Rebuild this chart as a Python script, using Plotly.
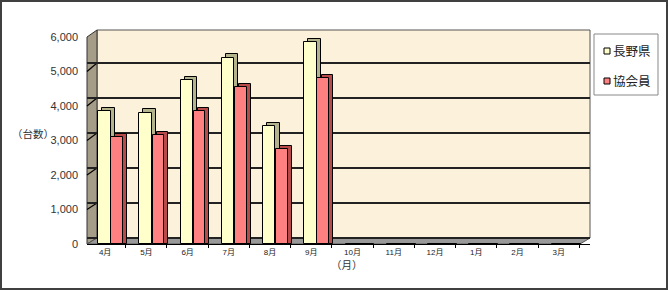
import plotly.graph_objects as go

months = ["4月", "5月", "6月", "7月", "8月", "9月", "10月", "11月", "12月", "1月", "2月", "3月"]
nagano = [3850, 3800, 4750, 5400, 3420, 5850, 0, 0, 0, 0, 0, 0]
kyokai = [3100, 3150, 3850, 4550, 2750, 4800, 0, 0, 0, 0, 0, 0]
y_ticks = [0, 1000, 2000, 3000, 4000, 5000, 6000]
series_names = ["長野県", "協会員"]

W, H = 668, 290
L, R, T, B = 87, 590, 37, 244
PW, PH = R - L, B - T


def px(x):
    return (x - L) / PW


def py(y):
    return (B - y) / PH


DEPTH_UNITS = 0.1   # side face width in category units
TOP_VAL = 100       # top face height in value units

fig = go.Figure()

series = [
    (series_names[0], nagano, "#ffffcc", "#b4b48c", -0.17, 0.30),
    (series_names[1], kyokai, "#ff8080", "#b84a4a", 0.15, 0.28),
]
for name, vals, col, side, off, wid in series:
    fig.add_trace(go.Bar(
        x=months, y=[v + TOP_VAL if v > 0 else 0 for v in vals],
        offset=off + DEPTH_UNITS, width=wid,
        marker=dict(color=side, line=dict(color="#000000", width=1)),
        showlegend=False, hoverinfo="skip"))
    fig.add_trace(go.Bar(
        x=months, y=vals, name=name, offset=off, width=wid, showlegend=False,
        marker=dict(color=col, line=dict(color="#000000", width=1))))

# invisible trace for back-wall gridlines axis
fig.add_trace(go.Scatter(x=[months[0]], y=[0], yaxis="y2", mode="markers",
                         marker=dict(opacity=0), showlegend=False, hoverinfo="skip"))

shapes = []
# outer border
shapes.append(dict(type="rect", xref="paper", yref="paper",
                   x0=px(1), x1=px(667), y0=py(289), y1=py(1),
                   line=dict(color="#404040", width=2), fillcolor="rgba(0,0,0,0)", layer="above"))
# back wall
shapes.append(dict(type="rect", xref="paper", yref="paper",
                   x0=px(97), x1=px(590), y0=py(238), y1=py(30),
                   line=dict(color="#555555", width=1), fillcolor="#fcf1da", layer="below"))
# left wall
shapes.append(dict(type="path", xref="paper", yref="paper",
                   path=f"M {px(87)},{py(37)} L {px(97)},{py(30)} L {px(97)},{py(238)} L {px(87)},{py(244)} Z",
                   line=dict(color="#333333", width=1), fillcolor="#a69d89", layer="between"))
# floor
shapes.append(dict(type="path", xref="paper", yref="paper",
                   path=f"M {px(87)},{py(244)} L {px(97)},{py(238)} L {px(590)},{py(238)} L {px(580)},{py(244)} Z",
                   line=dict(color="#555555", width=1), fillcolor="#999999", layer="between"))
# diagonal ticks on left wall
for v in y_ticks[1:-1]:
    yf = B - v / 6000 * PH
    yb = 238 - v / 1000 * 35
    shapes.append(dict(type="line", xref="paper", yref="paper",
                       x0=px(87), y0=py(yf), x1=px(97), y1=py(yb),
                       line=dict(color="#000000", width=1.2), layer="between"))

# legend (drawn manually to match the compact box)
shapes.append(dict(type="rect", xref="paper", yref="paper",
                   x0=px(594), x1=px(658), y0=py(95), y1=py(34),
                   line=dict(color="#888888", width=1), fillcolor="#ffffff", layer="above"))
legend_rows = [(51, series[0][2]), (81, series[1][2])]
annotations = []
for (yc, col), name in zip(legend_rows, series_names):
    shapes.append(dict(type="rect", xref="paper", yref="paper",
                       x0=px(604), x1=px(610), y0=py(yc + 3), y1=py(yc - 3),
                       line=dict(color="#000000", width=1), fillcolor=col, layer="above"))
    annotations.append(dict(text=name, xref="paper", yref="paper", x=px(611), y=py(yc),
                            xanchor="left", yanchor="middle", showarrow=False,
                            font=dict(size=12.5, color="#222222", family="Noto Sans CJK JP")))

annotations += [
    dict(text="（台数）", xref="paper", yref="paper", x=px(33), y=py(133),
         xanchor="center", yanchor="middle", showarrow=False,
         font=dict(size=10.5, color="#333333", family="Noto Sans CJK JP")),
    dict(text="（月）", xref="paper", yref="paper", x=px(347), y=py(264),
         xanchor="center", yanchor="middle", showarrow=False,
         font=dict(size=10.5, color="#333333", family="Noto Sans CJK JP")),
]

fig.update_layout(
    width=W, height=H,
    margin=dict(l=L, r=W - R, t=T, b=H - B, pad=0),
    paper_bgcolor="#ffffff", plot_bgcolor="rgba(0,0,0,0)",
    barmode="overlay", bargap=0, showlegend=False,
    font=dict(family="Arial, Liberation Sans, Noto Sans CJK JP", color="#333333"),
    xaxis=dict(type="category", range=[-0.44, 11.76], showgrid=False,
               showline=True, linecolor="#000000", linewidth=1,
               ticks="outside", tickson="boundaries", ticklen=3, tickcolor="#000000",
               tickfont=dict(size=8, color="#222222"), fixedrange=True),
    yaxis=dict(range=[0, 6000], tickvals=y_ticks, tickformat=",", showgrid=False,
               zeroline=False, showline=False, ticks="", ticklabelstandoff=8,
               tickfont=dict(size=11, color="#333333")),
    yaxis2=dict(overlaying="y", range=[-171, 5743], dtick=1000, tick0=0,
                showgrid=True, gridcolor="#222222", gridwidth=1.5,
                showticklabels=False, zeroline=False, showline=False, ticks=""),
    shapes=shapes,
    annotations=annotations,
)

fig.write_html("out.html")
